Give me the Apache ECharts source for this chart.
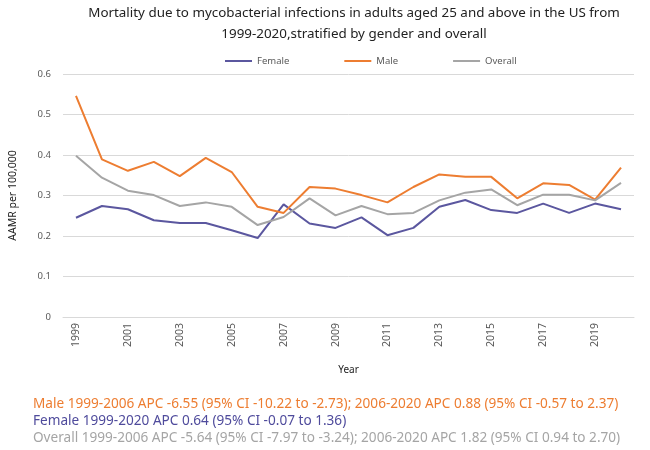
<!DOCTYPE html>
<html>
<head>
<meta charset="utf-8">
<script src="https://cdn.jsdelivr.net/npm/echarts@6/dist/echarts.min.js"></script>
<style>
	html, body { margin: 0; padding: 0; background: #fff; }
	#chart { width: 650px; height: 450px; }
</style>
</head>
<body>
<div id="chart"></div>
<script>
// chart data
const years = ["1999", "2000", "2001", "2002", "2003", "2004", "2005", "2006", "2007", "2008", "2009",
	"2010", "2011", "2012", "2013", "2014", "2015", "2016", "2017", "2018", "2019", "2020"];
const female = [0.245, 0.274, 0.266, 0.239, 0.232, 0.232, 0.214, 0.195, 0.278, 0.231, 0.220,
	0.246, 0.202, 0.220, 0.272, 0.289, 0.264, 0.257, 0.280, 0.257, 0.280, 0.266];
const male = [0.546, 0.389, 0.361, 0.383, 0.348, 0.393, 0.358, 0.272, 0.257, 0.321, 0.317,
	0.301, 0.283, 0.321, 0.352, 0.346, 0.346, 0.293, 0.330, 0.326, 0.290, 0.369];
const overall = [0.398, 0.344, 0.312, 0.301, 0.274, 0.283, 0.272, 0.227, 0.247, 0.293, 0.251,
	0.274, 0.254, 0.257, 0.288, 0.307, 0.315, 0.276, 0.302, 0.302, 0.288, 0.331];
const notes = [
	"Male 1999-2006 APC -6.55 (95% CI -10.22 to -2.73); 2006-2020 APC 0.88 (95% CI -0.57 to 2.37)",
	"Female 1999-2020 APC 0.64 (95% CI -0.07 to 1.36)",
	"Overall 1999-2006 APC -5.64 (95% CI -7.97 to -3.24); 2006-2020 APC 1.82 (95% CI 0.94 to 2.70)",
];

const font = "Noto Sans";
const colors = { female: "#5b579f", male: "#ed7d31", overall: "#a5a5a5" };
const noteColors = ["#ed7d31", "#4f4b9c", "#a5a5a5"];

const chart = echarts.init(document.getElementById("chart"));

const noteTitles = notes.map((t, i) => ({
	text: t,
	left: 28,
	top: 392 + i * 17,
	textStyle: { color: noteColors[i], fontSize: 13.6, fontWeight: "normal", fontFamily: font },
}));

chart.setOption({
	animation: false,
	title: [
		{
			text: "Mortality due to mycobacterial infections in adults aged 25 and above in the US from\n1999-2020,stratified by gender and overall",
			left: 349,
			textAlign: "center",
			top: -2,
			textStyle: { color: "#222", fontSize: 13.4, fontWeight: "normal", fontFamily: font, lineHeight: 21 },
		},
	].concat(noteTitles),
	legend: {
		top: 51,
		left: 220,
		itemGap: 55,
		itemWidth: 27,
		itemHeight: 2,
		itemTextGap: 0,
		icon: "rect",
		textStyle: { color: "#595959", fontSize: 9.5, fontFamily: font },
		data: ["Female", "Male", "Overall"],
	},
	grid: { left: 60, right: 16, top: 74, bottom: 133 },
	xAxis: {
		type: "category",
		data: years,
		name: "Year",
		nameLocation: "middle",
		nameGap: 48,
		nameTextStyle: { color: "#222", fontSize: 10, fontFamily: font },
		axisLine: { lineStyle: { color: "#d9d9d9" } },
		axisTick: { show: false },
		axisLabel: { interval: 1, rotate: 90, color: "#595959", fontSize: 10.5, fontFamily: font, margin: 6 },
	},
	yAxis: {
		type: "value",
		min: 0,
		max: 0.6,
		interval: 0.1,
		name: "AAMR per 100,000",
		nameLocation: "middle",
		nameGap: 44,
		nameTextStyle: { color: "#222", fontSize: 10.5, fontFamily: font },
		axisLine: { show: false },
		axisTick: { show: false },
		splitLine: { lineStyle: { color: "#d9d9d9" } },
		axisLabel: { color: "#595959", fontSize: 9.5, fontFamily: font, margin: 12 },
	},
	series: [
		{ name: "Female", type: "line", data: female, color: colors.female, symbol: "none", lineStyle: { width: 2 } },
		{ name: "Male", type: "line", data: male, color: colors.male, symbol: "none", lineStyle: { width: 2 } },
		{ name: "Overall", type: "line", data: overall, color: colors.overall, symbol: "none", lineStyle: { width: 2 } },
	],
});
</script>
</body>
</html>
